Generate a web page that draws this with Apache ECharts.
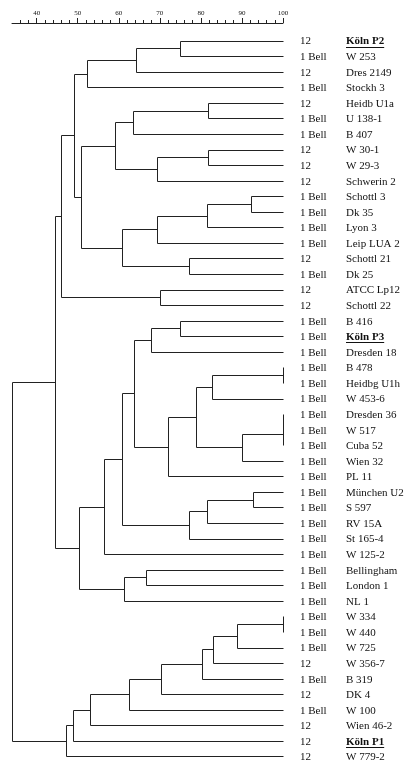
<!DOCTYPE html>
<html><head><meta charset="utf-8">
<script src="https://cdn.jsdelivr.net/npm/echarts@6/dist/echarts.min.js"></script>
<style>html,body{margin:0;padding:0;background:#fff}#c{width:411px;height:772px}</style>
</head><body><div id="c"></div>
<script>
// Leaf labels (top to bottom)
const strains = ['Köln P2','W 253','Dres 2149','Stockh 3','Heidb U1a','U 138-1','B 407','W 30-1','W 29-3','Schwerin 2',
  'Schottl 3','Dk 35','Lyon 3','Leip LUA 2','Schottl 21','Dk 25','ATCC Lp12','Schottl 22','B 416','Köln P3',
  'Dresden 18','B 478','Heidbg U1h','W 453-6','Dresden 36','W 517','Cuba 52','Wien 32','PL 11','München U2',
  'S 597','RV 15A','St 165-4','W 125-2','Bellingham','London 1','NL 1','W 334','W 440','W 725',
  'W 356-7','B 319','DK 4','W 100','Wien 46-2','Köln P1','W 779-2'];
const subgroups = ['12','1 Bell','12','1 Bell','12','1 Bell','1 Bell','12','12','12',
  '1 Bell','1 Bell','1 Bell','1 Bell','12','1 Bell','12','12','1 Bell','1 Bell',
  '1 Bell','1 Bell','1 Bell','1 Bell','1 Bell','1 Bell','1 Bell','1 Bell','1 Bell','1 Bell',
  '1 Bell','1 Bell','1 Bell','1 Bell','1 Bell','1 Bell','1 Bell','1 Bell','1 Bell','1 Bell',
  '12','1 Bell','12','1 Bell','12','12','12'];
const highlighted = ['Köln P2','Köln P3','Köln P1'];
// Merges: [childA, childB, similarity %]; leaves are 0..46, new nodes numbered from 47 in order
const merges = [
  [0,1,75.0],[47,2,64.1],[48,3,52.3],
  [4,5,81.8],[50,6,63.5],[7,8,81.8],[52,9,69.2],[51,53,59.2],
  [10,11,92.3],[55,12,81.6],[56,13,69.2],[14,15,77.0],[57,58,60.8],
  [54,59,50.8],[49,60,49.1],[16,17,70.0],[61,62,45.9],
  [18,19,75.0],[64,20,67.8],[21,22,100],[66,23,82.8],[24,25,100],[68,26,100],[69,27,89.9],
  [67,70,78.8],[71,28,71.9],[65,72,63.8],[29,30,92.7],[74,31,81.6],[75,32,77.2],[73,76,60.8],
  [77,33,56.4],[34,35,66.6],[79,36,61.3],[78,80,50.3],[63,81,44.4],
  [37,38,100],[83,39,88.8],[84,40,82.9],[85,41,80.2],[86,42,70.3],[87,43,62.5],[88,44,53.0],
  [89,45,48.9],[90,46,47.1],[82,91,34.1]
];
const majorTicks = [40,50,60,70,80,90,100];
const minorTicks = [36,38,42,44,46,48,52,54,56,58,62,64,66,68,72,74,76,78,82,84,86,88,92,94,96,98];

const nodeX = strains.map(() => 100);
const nodeY = strains.map((_, i) => i);
merges.forEach(([a, b, h]) => { nodeX.push(h); nodeY.push((nodeY[a] + nodeY[b]) / 2); });
const segData = merges.map(([a, b, h]) => [h, nodeY[a], nodeY[b], nodeX[a], nodeX[b]]);
const leafData = strains.map((s, i) => [100, i]);

const snap = v => Math.round(v) + 0.5;
const serif = '"Liberation Serif", "Times New Roman", serif';
const ctx = document.createElement('canvas').getContext('2d');

const chart = echarts.init(document.getElementById('c'), null, {renderer: 'canvas'});
chart.setOption({
  animation: false,
  backgroundColor: '#fff',
  grid: {left: 12, right: 128, top: 25, bottom: 0},
  xAxis: [{
    type: 'value', min: 34, max: 100, position: 'top', offset: 2,
    axisLine: {show: true, onZero: false, lineStyle: {color: '#222', width: 1}},
    axisTick: {show: true, customValues: majorTicks, length: 5, lineStyle: {color: '#222', width: 1}},
    axisLabel: {show: true, customValues: majorTicks, margin: 6, fontSize: 7, fontFamily: serif, color: '#111'},
    splitLine: {show: false}
  }, {
    type: 'value', min: 34, max: 100, position: 'top', offset: 2,
    axisLine: {show: false, onZero: false},
    axisTick: {show: true, customValues: minorTicks, length: 3, lineStyle: {color: '#222', width: 1}},
    axisLabel: {show: false},
    splitLine: {show: false}
  }],
  yAxis: {type: 'value', min: -1, max: 47, inverse: true, show: false},
  series: [{
    type: 'custom',
    xAxisIndex: 0,
    data: segData,
    encode: {x: [0, 3, 4], y: [1, 2]},
    renderItem: function (params, api) {
      const h = api.value(0), ya = api.value(1), yb = api.value(2), xa = api.value(3), xb = api.value(4);
      const pts = [api.coord([xa, ya]), api.coord([h, ya]), api.coord([h, yb]), api.coord([xb, yb])]
        .map(p => [snap(p[0]), snap(p[1])]);
      return {type: 'polyline', shape: {points: pts}, style: {stroke: '#222', lineWidth: 1, fill: null}};
    }
  }, {
    type: 'custom',
    xAxisIndex: 0,
    data: leafData,
    encode: {x: 0, y: 1},
    renderItem: function (params, api) {
      const i = params.dataIndex;
      const p = api.coord([api.value(0), api.value(1)]);
      const name = strains[i];
      const hl = highlighted.indexOf(name) >= 0;
      const children = [{
        type: 'text', x: p[0] + 17, y: p[1] + 1,
        style: {text: subgroups[i], font: '11px ' + serif, fill: '#111', verticalAlign: 'middle', align: 'left'}
      }, {
        type: 'text', x: p[0] + 63, y: p[1] + 1,
        style: {text: name, font: (hl ? 'bold ' : '') + '11px ' + serif, fill: '#111', verticalAlign: 'middle', align: 'left'}
      }];
      if (hl) {
        ctx.font = 'bold 11px ' + serif;
        const w = ctx.measureText(name).width;
        children.push({type: 'line', shape: {x1: p[0] + 63, y1: snap(p[1] + 6), x2: p[0] + 63 + w, y2: snap(p[1] + 6)},
          style: {stroke: '#111', lineWidth: 1}});
      }
      return {type: 'group', children: children};
    }
  }]
});
</script>
</body></html>
